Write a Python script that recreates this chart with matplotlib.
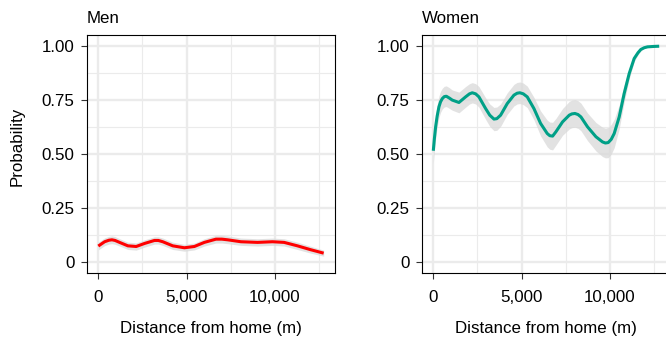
import matplotlib
matplotlib.use("Agg")
import matplotlib.pyplot as plt
from matplotlib.ticker import FuncFormatter, MultipleLocator

plt.rcParams['font.family'] = ['Liberation Sans', 'DejaVu Sans']

# Men: fitted probability vs distance
men_x = [0, 358, 600, 772, 950, 1205, 1676, 2147, 2618, 3183, 3400, 3653, 4218,
         4878, 5443, 6008, 6667, 7000, 7326, 8079, 9021, 9868, 10527, 11282,
         12034, 12768]
men_y = [0.073, 0.093, 0.100, 0.102, 0.099, 0.090, 0.074, 0.071, 0.085, 0.099,
         0.099, 0.093, 0.074, 0.065, 0.071, 0.090, 0.105, 0.105, 0.102, 0.093,
         0.090, 0.093, 0.090, 0.074, 0.056, 0.040]
men_se = [0.018, 0.018, 0.018, 0.018, 0.018, 0.017, 0.017, 0.017, 0.017, 0.017,
          0.017, 0.017, 0.017, 0.016, 0.016, 0.017, 0.018, 0.018, 0.018, 0.017,
          0.017, 0.017, 0.017, 0.017, 0.016, 0.014]

# Women
women_x = [0, 60, 132, 220, 320, 410, 510, 620, 736, 900, 1076, 1453, 1830, 2050,
           2208, 2400, 2585, 2962, 3200, 3436, 3600, 3813, 4190, 4568, 4750,
           4907, 5100, 5323, 5700, 6077, 6455, 6600, 6760, 6946, 7323, 7701,
           7850, 8024, 8200, 8363, 8737, 9213, 9587, 9750, 9909, 10080, 10249,
           10532, 10815, 11098, 11381, 11600, 11759, 11950, 12134, 12500, 12797]
women_y = [0.515, 0.570, 0.626, 0.676, 0.719, 0.742, 0.757, 0.766, 0.768, 0.760,
           0.750, 0.739, 0.765, 0.779, 0.784, 0.779, 0.765, 0.711, 0.680, 0.662,
           0.664, 0.680, 0.734, 0.773, 0.782, 0.784, 0.779, 0.765, 0.711, 0.642,
           0.595, 0.585, 0.583, 0.603, 0.649, 0.680, 0.686, 0.688, 0.683, 0.672,
           0.626, 0.580, 0.556, 0.551, 0.553, 0.568, 0.595, 0.672, 0.781, 0.873,
           0.943, 0.970, 0.985, 0.993, 0.997, 0.999, 1.000]
women_se = [0.060, 0.058, 0.055, 0.052, 0.050, 0.049, 0.048, 0.048, 0.048, 0.048,
            0.047, 0.048, 0.048, 0.047, 0.047, 0.047, 0.048, 0.050, 0.052, 0.054,
            0.054, 0.052, 0.050, 0.050, 0.050, 0.050, 0.050, 0.050, 0.052, 0.058,
            0.062, 0.063, 0.064, 0.062, 0.062, 0.064, 0.064, 0.064, 0.064, 0.064,
            0.064, 0.066, 0.068, 0.069, 0.070, 0.069, 0.066, 0.055, 0.040, 0.025,
            0.014, 0.009, 0.006, 0.004, 0.003, 0.002, 0.001]

x_ticks = [0, 5000, 10000]
y_ticks = [0, 0.25, 0.5, 0.75, 1.0]
y_labels = ['0', '0.25', '0.50', '0.75', '1.00']

panels = [
    ('Men', men_x, men_y, men_se, '#FF0000'),
    ('Women', women_x, women_y, women_se, '#00A087'),
]

fs = 12.2
fig = plt.figure(figsize=(6.66, 3.43), dpi=100)
axes_pos = [
    [87 / 666, 70 / 343, 248 / 666, 238 / 343],
    [422 / 666, 70 / 343, 248 / 666, 238 / 343],
]

for pos, (title, xs, ys, se, color) in zip(axes_pos, panels):
    ax = fig.add_axes(pos)
    lo = [y - s for y, s in zip(ys, se)]
    hi = [min(y + s, 1.0) for y, s in zip(ys, se)]
    ax.fill_between(xs, lo, hi, color='#D9D9D9', alpha=0.75, linewidth=0, zorder=2)
    ax.plot(xs, ys, color=color, linewidth=2.2, zorder=3,
            solid_capstyle='butt', solid_joinstyle='round')

    ax.set_xlim(-640, 13410)
    ax.set_ylim(-0.052, 1.052)
    ax.set_xticks(x_ticks)
    ax.xaxis.set_major_formatter(FuncFormatter(lambda v, p: f'{int(v):,}'))
    ax.xaxis.set_minor_locator(MultipleLocator(2500))
    ax.set_yticks(y_ticks)
    ax.set_yticklabels(y_labels)
    ax.yaxis.set_minor_locator(MultipleLocator(0.125))

    ax.grid(True, which='major', color='#EBEBEB', linewidth=1.7, zorder=0)
    ax.grid(True, which='minor', color='#EBEBEB', linewidth=0.85, zorder=0)
    ax.set_axisbelow(True)
    ax.tick_params(axis='both', which='major', labelsize=fs, length=4.5,
                   width=0.8, color='#333333', pad=4.5)
    ax.tick_params(axis='x', which='major', pad=7.5)
    ax.tick_params(which='minor', length=0)
    for sp in ax.spines.values():
        sp.set_linewidth(0.8)

    ax.set_title(title, loc='left', fontsize=fs, pad=8.5)
    ax.set_xlabel('Distance from home (m)', fontsize=fs, labelpad=12)
    if title == 'Men':
        ax.set_ylabel('Probability', fontsize=fs)
        ax.yaxis.set_label_coords(-0.25, 0.531)

fig.savefig('out.png', dpi=100)
